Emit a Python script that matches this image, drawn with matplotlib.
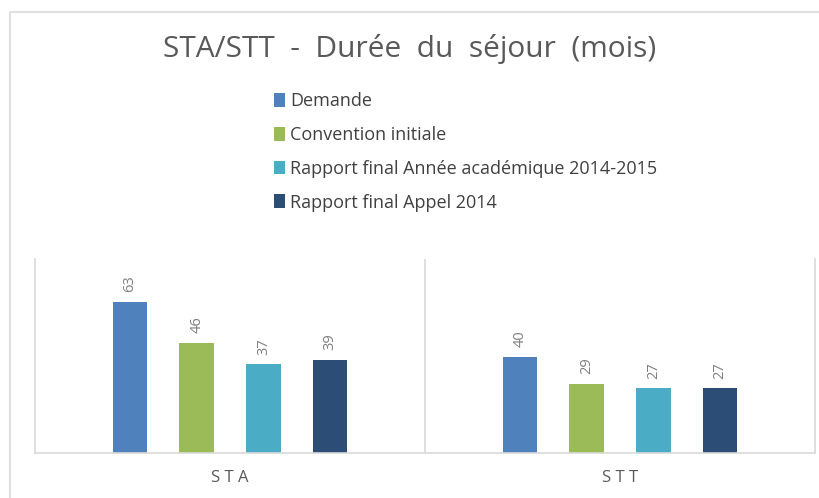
import matplotlib
matplotlib.use("Agg")
import matplotlib.pyplot as plt
from matplotlib.patches import Rectangle, Patch
import numpy as np

categories = ["STA", "STT"]
series_names = ["Demande", "Convention initiale",
                "Rapport final Année académique 2014-2015", "Rapport final Appel 2014"]
demande = [63, 40]
convention = [46, 29]
rapport_annee = [37, 27]
rapport_appel = [39, 27]
colors = ["#4f81bd", "#9bbb59", "#4bacc6", "#2c4d75"]

plt.rcParams['font.family'] = ['Open Sans', 'DejaVu Sans']

fig = plt.figure(figsize=(8.2, 4.98), dpi=100)
fig.patch.set_facecolor("white")
W, H = 820, 498
fig.add_artist(Rectangle((10 / W, -0.1), 1.2, (498 - 12) / H + 0.1,
                         transform=fig.transFigure, fill=False,
                         edgecolor="#e0e0e0", linewidth=1.5))

ax = fig.add_axes([35 / W, (H - 453) / H, (815 - 35) / W, (453 - 259) / H])
series = [demande, convention, rapport_annee, rapport_appel]
x = np.arange(len(categories))
step = 0.171
width = 0.089
for i, (vals, name, c) in enumerate(zip(series, series_names, colors)):
    pos = x + (i - 1.5) * step
    ax.bar(pos, vals, width=width, color=c, label=name)
    for p, v in zip(pos, vals):
        ax.annotate(str(v), (p, v), xytext=(0, 7), textcoords="offset points",
                    rotation=90, ha="center", va="bottom", fontsize=10.5,
                    color="#7f7f7f")

ax.set_xlim(-0.5, 1.5)
ax.set_ylim(0, 81)
ax.set_yticks([])
ax.set_xticks(x)
ax.set_xticklabels(["S T A", "S T T"], fontsize=12, color="#595959")
ax.tick_params(axis="x", length=0, pad=12)
for s in ["left", "right", "bottom"]:
    ax.spines[s].set_color("#d9d9d9")
    ax.spines[s].set_linewidth(1.2)
ax.spines["top"].set_visible(False)
ax.axvline(0.5, color="#d9d9d9", linewidth=1.2)

fig.text(0.5, (H - 49) / H, "STA/STT  -  Durée  du  séjour  (mois)", ha="center",
         va="center", fontsize=21.5, color="#595959")

handles = [Patch(facecolor=c, edgecolor="none") for c in colors]
leg = fig.legend(handles, series_names, loc="upper left",
                 bbox_to_anchor=(274 / W, (H - 92) / H), frameon=False,
                 fontsize=13, labelcolor="#404040", handlelength=0.6,
                 handleheight=0.8, handletextpad=0.3, labelspacing=0.88,
                 borderaxespad=0, borderpad=0)

fig.savefig("out.png", dpi=100, facecolor="white")
